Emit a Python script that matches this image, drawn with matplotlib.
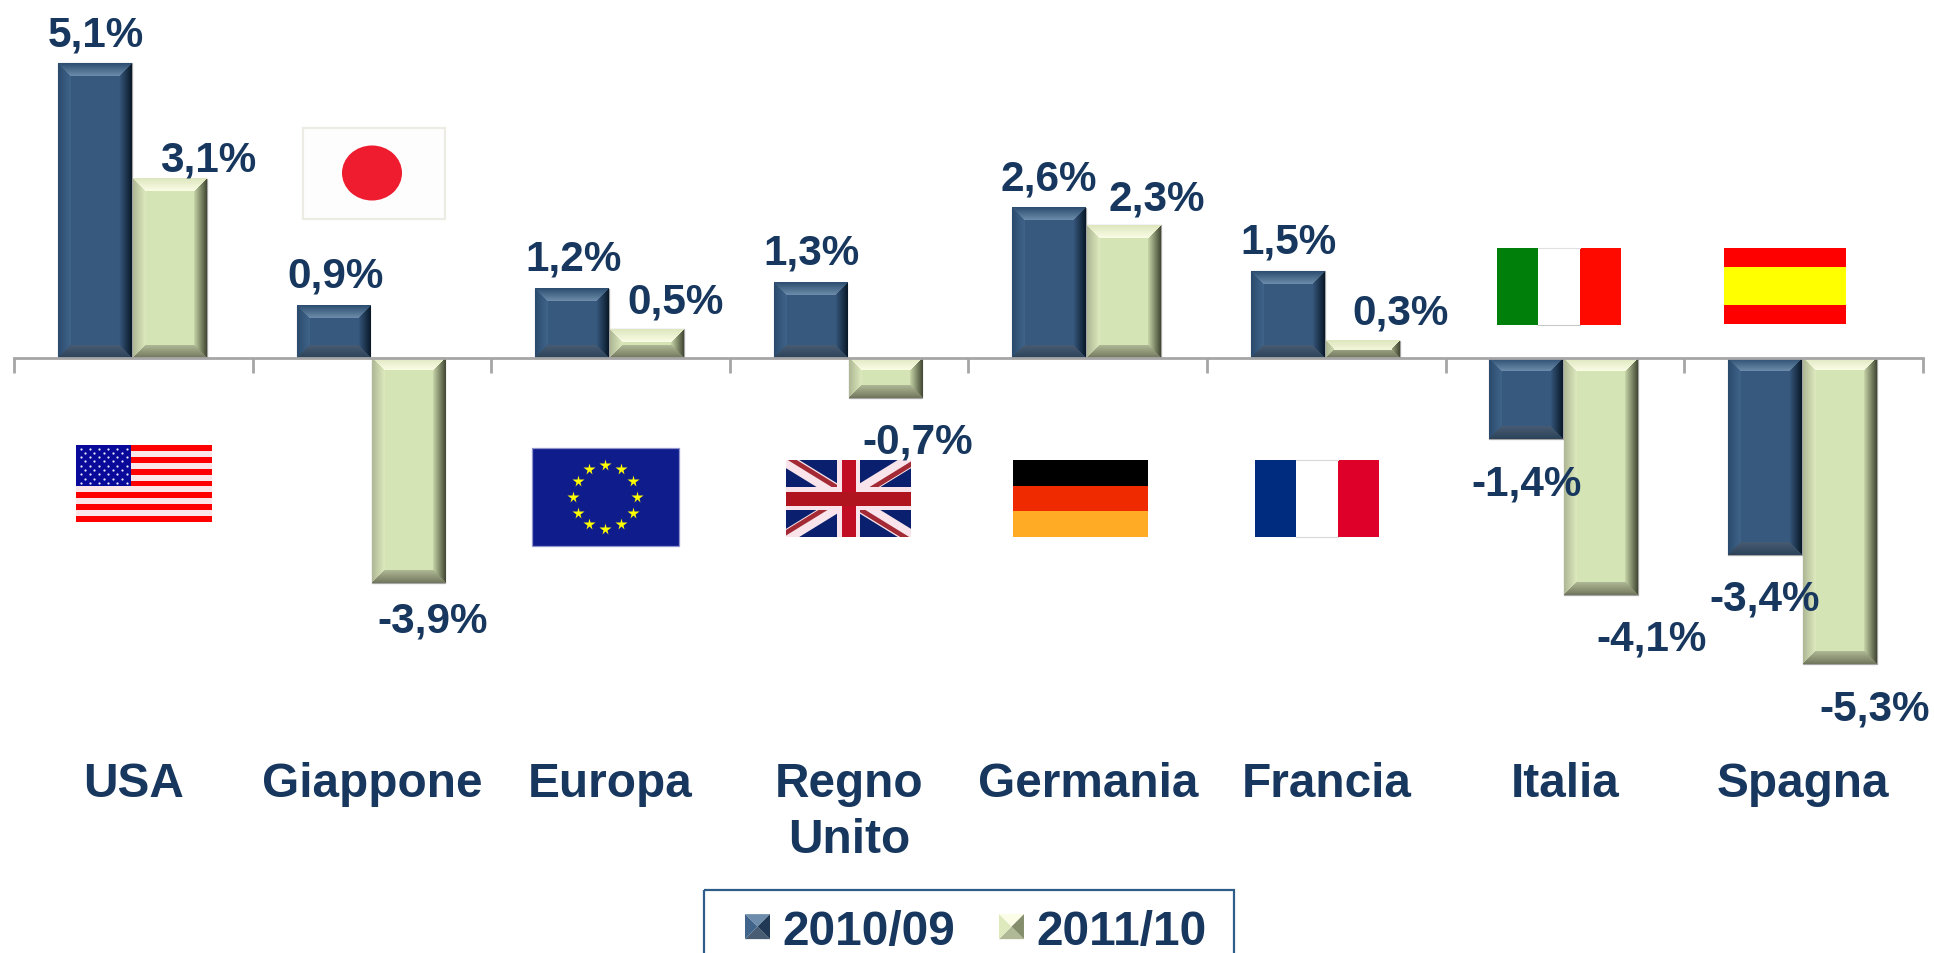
import numpy as np
import matplotlib
matplotlib.use("Agg")
import matplotlib.pyplot as plt
from matplotlib.patches import Rectangle, Ellipse, Polygon
from matplotlib.legend_handler import HandlerBase

# ---------- data ----------
categories = ["USA", "Giappone", "Europa", "Regno\nUnito", "Germania", "Francia", "Italia", "Spagna"]
series_names = ["2010/09", "2011/10"]
values_2010 = [5.1, 0.9, 1.2, 1.3, 2.6, 1.5, -1.4, -3.4]
values_2011 = [3.1, -3.9, 0.5, -0.7, 2.3, 0.3, -4.1, -5.3]

# ---------- hand-placed label offsets, in pixels from the bar end ----------
label_dx_2010 = [1, 2, 2, 1, 0, 1, 0, 0]
label_dy_2010 = [18, 19, 19, 19, 18, 19, -56, -55]
label_dx_2011 = [38, 24, 29, 32, 33, 38, 50, 35]
label_dy_2011 = [8, -48, 17, -54, 16, 17, -55, -55]

W, H = 1934, 954
INK = "#17375E"
plt.rcParams["font.family"] = ["Liberation Sans", "DejaVu Sans"]
plt.rcParams["font.weight"] = "bold"

fig = plt.figure(figsize=(W / 100, H / 100), dpi=100, facecolor="white")

# overlay in pixel coordinates for the flags and legend box
deco = fig.add_axes([0, 0, 1, 1], zorder=0)
deco.set_xlim(0, W)
deco.set_ylim(H, 0)
deco.axis("off")

ax = fig.add_axes([0, 0, 1, 1], zorder=1)
ax.patch.set_visible(False)

CENTER0, STEP, ZERO_Y, UNIT = 133.5, 238.55, 359.0, 57.8
ax.set_xlim(-CENTER0 / STEP, (W - CENTER0) / STEP)
ax.set_ylim(-(H - ZERO_Y) / UNIT, ZERO_Y / UNIT)
ax.set_autoscale_on(False)

# ---------- bars ----------
x = np.arange(len(categories))
bw = 73.7 / STEP
off1 = -38.6 / STEP
off2 = 36.4 / STEP

BLUE = dict(base=(0x36, 0x59, 0x7D),
            top=((0x2B, 0x4C, 0x6E), (0x6E, 0x8D, 0xAC)),
            bottom=((0x2C, 0x42, 0x58), (0x48, 0x5D, 0x73)),
            left=((0x2A, 0x4B, 0x6C), (0x40, 0x64, 0x8A)),
            right=((0x0A, 0x18, 0x28), (0x38, 0x5B, 0x80)))
GREEN = dict(base=(0xD5, 0xE4, 0xB4),
             top=((0xDD, 0xE6, 0xBE), (0xFB, 0xFD, 0xE6)),
             bottom=((0x70, 0x76, 0x5C), (0xB0, 0xB9, 0x96)),
             left=((0xAE, 0xB6, 0x94), (0xDE, 0xEA, 0xBE)),
             right=((0x40, 0x46, 0x33), (0xC8, 0xD6, 0xA8)))


def bevel_image(w, h, pal, b=13):
    ys, xs = np.mgrid[0:h, 0:w]
    dt, db = ys + 0.5, h - ys - 0.5
    dl, dr = xs + 0.5, w - xs - 0.5
    dists = np.stack([dt, db, dl, dr])
    which = dists.argmin(axis=0)
    dmin = dists.min(axis=0)
    img = np.zeros((h, w, 3))
    img[...] = pal["base"]
    for k, name in enumerate(["top", "bottom", "left", "right"]):
        c0, c1 = np.array(pal[name], float)
        mask = (which == k) & (dmin < b)
        t = (dmin[mask] / b)[:, None]
        img[mask] = c0 + (c1 - c0) * t
    return img / 255


def draw_series(vals, shift, pal, dxs, dys):
    bars = ax.bar(x + shift, vals, bw, color="#%02x%02x%02x" % pal["base"],
                  edgecolor="#a5a5a5", linewidth=0.9, zorder=2)
    for rect, v, dx, dy in zip(bars, vals, dxs, dys):
        x0, x1 = rect.get_x(), rect.get_x() + rect.get_width()
        y0, y1 = sorted((rect.get_y(), rect.get_y() + rect.get_height()))
        w = int(round((x1 - x0) * STEP))
        h = max(int(round((y1 - y0) * UNIT)), 2)
        ax.imshow(bevel_image(w, h, pal), extent=(x0, x1, y0, y1), origin="upper",
                  aspect="auto", interpolation="nearest", zorder=2.5)
        ax.annotate(f"{v:.1f}%".replace(".", ","),
                    xy=(rect.get_x() + rect.get_width() / 2, v),
                    xytext=(dx * 0.72, dy * 0.72), textcoords="offset points",
                    ha="center", va="baseline", fontsize=30.4, fontweight="bold",
                    color=INK, zorder=5)
    return bars


bars1 = draw_series(values_2010, off1, BLUE, label_dx_2010, label_dy_2010)
bars2 = draw_series(values_2011, off2, GREEN, label_dx_2011, label_dy_2011)
ax.set_xlim(-CENTER0 / STEP, (W - CENTER0) / STEP)
ax.set_ylim(-(H - ZERO_Y) / UNIT, ZERO_Y / UNIT)

# ---------- axis ----------
for s in ["top", "left", "right"]:
    ax.spines[s].set_visible(False)
ax.spines["bottom"].set_position(("data", 0))
ax.spines["bottom"].set_bounds(-0.5, len(categories) - 0.5)
ax.spines["bottom"].set_color("#a6a6a6")
ax.spines["bottom"].set_linewidth(2.0)
ax.spines["bottom"].set_zorder(3)
ax.yaxis.set_visible(False)
ax.set_xticks(x)
ax.set_xticklabels(categories, fontsize=34.4, fontweight="bold", color=INK, linespacing=1.32)
ax.set_xticks(np.arange(len(categories) + 1) - 0.5, minor=True)
ax.tick_params(axis="x", which="major", length=0, pad=290)
ax.tick_params(axis="x", which="minor", length=10.5, width=2.0, color="#a6a6a6", direction="out")


# ---------- flags ----------
def rect(x0, y0, x1, y1, color, **kw):
    deco.add_patch(Rectangle((x0, y0), x1 - x0, y1 - y0, facecolor=color, edgecolor="none", **kw))


# USA
x0, y0, x1, y1 = 76, 446, 212, 523
rect(x0, y0, x1, y1, "#ffffff")
sh = (y1 - y0) / 13
for i in range(0, 13, 2):
    rect(x0, y0 + i * sh, x1, y0 + (i + 1) * sh, "#ff0000")
for i in range(1, 13, 2):
    rect(x0, y0 + i * sh, x1, y0 + (i + 1) * sh, "#fbe6ea")
rect(x0, y0, x0 + 55, y0 + 41, "#0a0a9a")
for r in range(9):
    n = 6 if r % 2 == 0 else 5
    sx = x0 + 4.6 + (0 if r % 2 == 0 else 4.6) + 9.2 * np.arange(n)
    deco.plot(sx, np.full(n, y0 + 3.5 + r * 4.3), ls="none", marker="o", ms=1.6,
              mfc="#e8e8ff", mec="none")

# Japan
rect(302, 127.5, 446, 221, "#fdfdfe")
deco.add_patch(Rectangle((303, 128.5), 142, 91.5, fill=False, edgecolor="#ecece4", linewidth=1.6))
deco.add_patch(Ellipse((372, 174), 60, 55, facecolor="#ee1c2e", edgecolor="none"))

# EU
rect(532, 449, 679, 547, "#0f1c8b")
deco.add_patch(Rectangle((532, 449), 147, 98, fill=False, edgecolor="#8f94cf", linewidth=0.9))
ang = np.deg2rad(np.arange(0, 360, 30))
deco.plot(605.3 + 32 * np.cos(ang), 497.7 + 32 * np.sin(ang), ls="none", marker="*", ms=8.5,
          mfc="#ffff00", mec="none")

# UK
ux0, uy0, ux1, uy1 = 786, 461, 911, 538
cx, cy = (ux0 + ux1) / 2, (uy0 + uy1) / 2
clip = Rectangle((ux0, uy0), ux1 - ux0, uy1 - uy0, transform=deco.transData)
rect(ux0, uy0, ux1, uy1, "#0a1f6d")
for a, b in [((ux0, uy0), (ux1, uy1)), ((ux0, uy1), (ux1, uy0))]:
    ln, = deco.plot([a[0], b[0]], [a[1], b[1]], color="#f8e4ea", lw=10, solid_capstyle="projecting")
    ln.set_clip_path(clip)
for (ex, ey), (ox, oy) in [((ux0, uy0), (3, -2)), ((ux1, uy0), (2, 3)),
                           ((ux1, uy1), (-3, 2)), ((ux0, uy1), (-2, -3))]:
    ln, = deco.plot([ex + ox, cx + ox], [ey + oy, cy + oy], color="#a32a35", lw=3.4,
                    solid_capstyle="projecting")
    ln.set_clip_path(clip)
rect(cx - 11.5, uy0, cx + 11.5, uy1, "#f8e4ea", zorder=3)
rect(ux0, cy - 11.5, ux1, cy + 11.5, "#f8e4ea", zorder=3)
rect(cx - 7, uy0, cx + 7, uy1, "#c00d23", zorder=3.1)
rect(ux0, cy - 7, ux1, cy + 7, "#b0141f", zorder=3.1)

# Germany
rect(1013, 461, 1148, 487, "#000000")
rect(1013, 487, 1148, 512, "#f02a00")
rect(1013, 512, 1148, 538, "#ffab25")

# France
rect(1255, 461, 1296, 538, "#002c7f")
rect(1296, 461, 1338, 538, "#ffffff")
rect(1338, 461, 1379, 538, "#de0028")
deco.plot([1296, 1338], [461, 461], color="#d8d8d8", lw=0.8)
deco.plot([1296, 1338], [538, 538], color="#d8d8d8", lw=0.8)

# Italy
rect(1497, 249, 1538, 326, "#007f0a")
rect(1538, 249, 1580, 326, "#ffffff")
rect(1580, 249, 1621, 326, "#ff0a00")
deco.plot([1538, 1580], [249, 249], color="#e0e0e0", lw=0.8)
deco.plot([1538, 1580], [326, 326], color="#c8c8c8", lw=0.8)

# Spain
rect(1724, 249, 1846, 268, "#ff0000")
rect(1724, 268, 1846, 306, "#ffff00")
rect(1724, 306, 1846, 325, "#ff0000")

# ---------- legend ----------
deco.add_patch(Rectangle((703.5, 890.5), 530, 80, fill=False, edgecolor="#2F5D8A", linewidth=1.6))


class BevelHandler(HandlerBase):
    def __init__(self, pal):
        super().__init__()
        self.pal = pal

    def create_artists(self, legend, orig, xd, yd, width, height, fontsize, trans):
        s = 25 * 0.72
        xr = width - xd
        xl = xr - s
        yb = -yd + 2.3
        yt = yb + s
        xm, ym = (xl + xr) / 2, (yb + yt) / 2
        p = self.pal
        hexc = lambda c: "#%02x%02x%02x" % tuple(c)
        mid = (np.array(p["right"][0]) + np.array(p["right"][1])) // 2
        sides = [([(xl, yt), (xr, yt), (xm, ym)], p["top"][1]),
                 ([(xl, yb), (xr, yb), (xm, ym)], p["bottom"][1]),
                 ([(xl, yb), (xl, yt), (xm, ym)], p["left"][1]),
                 ([(xr, yb), (xr, yt), (xm, ym)], mid)]
        return [Polygon(v, closed=True, facecolor=hexc(c), edgecolor="none", transform=trans)
                for v, c in sides]


ax.legend([bars1, bars2], series_names, ncol=2, frameon=False, loc="upper left",
          bbox_to_anchor=(727 / W, 1 - 910 / H), borderaxespad=0, borderpad=0,
          prop={"size": 34.4, "weight": "bold"}, labelcolor=INK,
          handlelength=0.9, handleheight=0.6, handletextpad=0.25, columnspacing=0.55,
          handler_map={bars1: BevelHandler(BLUE), bars2: BevelHandler(GREEN)})

fig.savefig("out.png", dpi=100, facecolor="white")
